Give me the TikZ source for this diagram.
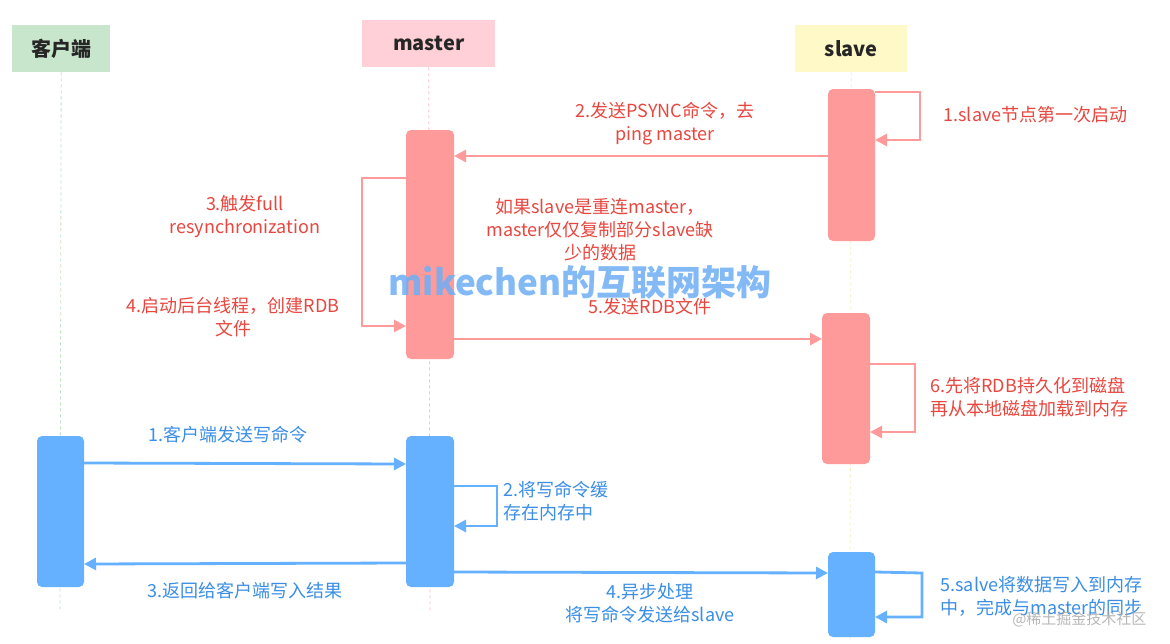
\documentclass[tikz,border=0pt]{standalone}
\usepackage{fontspec}
\setmainfont{Noto Sans CJK SC}
\usetikzlibrary{arrows.meta}
\definecolor{rbar}{HTML}{FF9A9A}
\definecolor{bbar}{HTML}{66B1FF}
\definecolor{rtxt}{HTML}{E8473F}
\definecolor{btxt}{HTML}{3A8EE6}
\begin{document}
\begin{tikzpicture}[x=1pt,y=-1pt,
  hdr/.style={minimum height=47pt,inner sep=0pt,font=\fontsize{20}{24}\selectfont\bfseries,text=black!85},
  life/.style={dashed,line width=0.8pt},
  rbarst/.style={fill=rbar,rounded corners=5pt,draw=none},
  bbarst/.style={fill=bbar,rounded corners=5pt,draw=none},
  rarr/.style={draw=rbar,line width=2.8pt,-{Triangle[length=12pt,width=12pt]}},
  barr/.style={draw=bbar,line width=2.8pt,-{Triangle[length=12pt,width=12pt]}},
  rlab/.style={text=rtxt,font=\fontsize{18}{23}\selectfont,align=center},
  blab/.style={text=btxt,font=\fontsize{18}{23}\selectfont,align=center}]
\useasboundingbox (0,0) rectangle (1170,643);
\fill[white] (0,0) rectangle (1170,643);
% headers
\node[hdr,fill={rgb,255:red,200;green,230;blue,203},minimum width=98pt,anchor=north west] (hc) at (12,25) {客户端};
\node[hdr,fill={rgb,255:red,255;green,208;blue,216},minimum width=133pt,anchor=north west] (hm) at (362,20) {master};
\node[hdr,fill={rgb,255:red,255;green,249;blue,200},minimum width=112pt,anchor=north west] (hs) at (795,25) {slave};
% lifelines
\coordinate (ce) at (60,612);
\coordinate (me) at (430,612);
\coordinate (se) at (850,640);
\draw[life,draw={rgb,255:red,190;green,225;blue,195}] (hc.south) -- (ce);
\draw[life,draw={rgb,255:red,255;green,190;blue,200}] (hm.south) -- (me);
\draw[life,draw={rgb,255:red,245;green,240;blue,190}] (hs.south) -- (se);
% bars
\path[rbarst] (828,89) rectangle (875,241);
\path[rbarst] (406,130) rectangle (454,359);
\path[rbarst] (822,313) rectangle (870,464);
\path[bbarst] (37,436) rectangle (84,587);
\path[bbarst] (406,436) rectangle (454,587);
\path[bbarst] (828,552) rectangle (875,637);
% red arrows
\coordinate (s1a) at (875,92); \coordinate (s1b) at (875,140);
\draw[rarr] (s1a) -- (920,92) -- (920,140) -- (s1b);
\node[rlab,anchor=west] (l1) at (940,115) {1.slave节点第一次启动};
\coordinate (p1) at (828,156); \coordinate (p2) at (454,156);
\draw[rarr] (p1) -- (p2);
\node[rlab] (l2) at (665,124) {2.发送PSYNC命令，去\\ping master};
\coordinate (m1) at (406,178); \coordinate (m2) at (406,326);
\draw[rarr] (m1) -- (362,178) -- (362,326) -- (m2);
\node[rlab] (l3) at (245,217) {3.触发full\\resynchronization};
\node[rlab] (l4) at (233,317) {4.启动后台线程，创建RDB\\文件};
\node[rlab] (lx) at (600,230) {如果slave是重连master，\\master仅仅复制部分slave缺\\少的数据};
\coordinate (r1) at (454,339); \coordinate (r2) at (822,339);
\draw[rarr] (r1) -- (r2);
\node[rlab] (l5) at (650,307) {5.发送RDB文件};
\coordinate (d1) at (870,364); \coordinate (d2) at (870,432);
\draw[rarr] (d1) -- (915,364) -- (915,432) -- (d2);
\node[rlab,align=left,anchor=west] (l6) at (927,397) {6.先将RDB持久化到磁盘\\再从本地磁盘加载到内存};
% blue arrows
\coordinate (b1) at (84,463); \coordinate (b2) at (406,464);
\draw[barr] (b1) -- (b2);
\node[blab] (k1) at (228,435) {1.客户端发送写命令};
\coordinate (e1) at (454,486); \coordinate (e2) at (454,526);
\draw[barr] (e1) -- (497,486) -- (497,526) -- (e2);
\node[blab,align=left,anchor=west] (k2) at (500,501) {2.将写命令缓\\存在内存中};
\coordinate (f1) at (406,563); \coordinate (f2) at (84,564);
\draw[barr] (f1) -- (f2);
\node[blab] (k3) at (245,591) {3.返回给客户端写入结果};
\coordinate (g1) at (454,572); \coordinate (g2) at (828,573);
\draw[barr] (g1) -- (g2);
\node[blab] (k4) at (650,603) {4.异步处理\\将写命令发送给slave};
\coordinate (h1) at (875,572); \coordinate (h2) at (875,617);
\draw[barr] (h1) -- (922,573) -- (922,617) -- (h2);
\node[blab,align=left,anchor=west] (k5) at (937,596) {5.salve将数据写入到内存\\中，完成与master的同步};
% watermarks
\node[text=gray!70,opacity=0.8,font=\fontsize{15}{18}\selectfont,anchor=east] (w2) at (1150,619) {@稀土掘金技术社区};
\node[text={rgb,255:red,110;green,175;blue,245},opacity=0.85,font=\fontsize{35}{40}\selectfont\bfseries] (w1) at (580,282) {mikechen的互联网架构};
\end{tikzpicture}
\end{document}
